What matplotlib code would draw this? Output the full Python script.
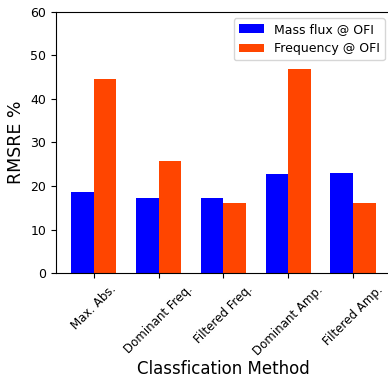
import numpy as np
import matplotlib.pyplot as plt

methods = ['Max. Abs.', 'Dominant Freq.', 'Filtered Freq.', 'Dominant Amp.', 'Filtered Amp.']
mass_flux = [18.6, 17.2, 17.2, 22.8, 23.0]
frequency = [44.6, 25.7, 16.1, 46.9, 16.1]

x = np.arange(len(methods))
w = 0.35

fig = plt.figure(figsize=(3.88, 3.81), dpi=100)
ax = fig.add_axes([0.144, 0.283, 0.864, 0.686])
ax.bar(x - w / 2, mass_flux, w, color='blue', label='Mass flux @ OFI')
ax.bar(x + w / 2, frequency, w, color='orangered', label='Frequency @ OFI')
ax.set_ylim(0, 60)
ax.set_xticks(x)
ax.set_xticklabels(methods, rotation=45, fontsize=8.5)
ax.tick_params(axis='y', labelsize=9)
ax.set_ylabel('RMSRE %', fontsize=12.5)
ax.set_xlabel('Classfication Method', fontsize=12, labelpad=2)
ax.legend(loc='upper right', fontsize=9)

fig.savefig('out.png', dpi=100)
